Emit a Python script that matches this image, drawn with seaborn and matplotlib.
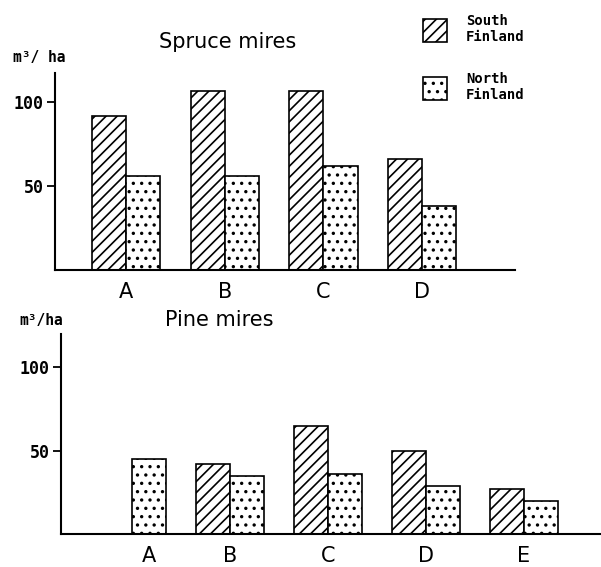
import numpy as np
import pandas as pd
import matplotlib
matplotlib.use("Agg")
import matplotlib.pyplot as plt
from matplotlib.patches import Patch
import seaborn as sns

# ---------------- data ----------------
regions = ["South Finland", "North Finland"]
legend_labels = ["South\nFinland", "North\nFinland"]
region_hatches = ["///", ".."]

spruce_sites = ["A", "B", "C", "D"]
spruce_south = [92, 107, 107, 66]
spruce_north = [56, 56, 62, 38]

pine_sites = ["A", "B", "C", "D", "E"]
pine_south = [np.nan, 42, 65, 50, 27]
pine_north = [45, 35, 36, 29, 20]

y_ticks = [50, 100]
spruce_title = "Spruce mires"
pine_title = "Pine mires"
unit_top = "m³/ ha"
unit_bottom = "m³/ha"


def long_frame(sites, south, north):
    rows = []
    for s, v in zip(sites, south):
        rows.append({"site": s, "region": regions[0], "value": v})
    for s, v in zip(sites, north):
        rows.append({"site": s, "region": regions[1], "value": v})
    return pd.DataFrame(rows).dropna()


sns.set_style("ticks")
plt.rcParams["font.family"] = ["DejaVu Sans"]
plt.rcParams["hatch.linewidth"] = 1.2
for k in ["text.color", "axes.labelcolor", "xtick.color", "ytick.color", "axes.edgecolor"]:
    plt.rcParams[k] = "black"

W, H = 601, 567
fig = plt.figure(figsize=(W / 100, H / 100), dpi=100)

ax1 = fig.add_axes([55 / W, 1 - 270 / H, (515 - 55) / W, (270 - 73) / H])
ax2 = fig.add_axes([61 / W, 1 - 534 / H, (601 - 61) / W, (534 - 334) / H])

mono = dict(family="DejaVu Sans Mono", weight="bold")


def draw(ax, sites, south, north, xlim, ylim):
    df = long_frame(sites, south, north)
    sns.barplot(data=df, x="site", y="value", hue="region", order=sites,
                hue_order=regions, width=0.69, dodge=True, legend=False,
                edgecolor="black", linewidth=1.2, ax=ax)
    for cont, hatch in zip(ax.containers, region_hatches):
        for bar in cont:
            bar.set_facecolor("white")
            bar.set_edgecolor("black")
            bar.set_hatch(hatch)
    # tick positions centred under the bars actually present
    centers = [p.get_x() + p.get_width() / 2 for p in ax.patches
               if np.isfinite(p.get_height()) and p.get_height() > 0]
    ticks = []
    for i in range(len(sites)):
        c = [x for x in centers if i - 0.5 < x < i + 0.5]
        ticks.append(np.mean(c) if c else i)
    ax.set_xticks(ticks)
    ax.set_xticklabels(sites, fontsize=15)
    ax.tick_params(axis="x", length=0, pad=9)
    ax.set_xlim(*xlim)
    ax.set_ylim(*ylim)
    ax.set_yticks(y_ticks)
    ax.set_yticklabels([str(t) for t in y_ticks], fontsize=12, **mono)
    ax.tick_params(axis="y", length=6, width=1.3, pad=2, direction="out")
    ax.set_xlabel("")
    ax.set_ylabel("")
    for side in ["top", "right"]:
        ax.spines[side].set_visible(False)
    for side in ["left", "bottom"]:
        ax.spines[side].set_linewidth(1.5)


draw(ax1, spruce_sites, spruce_south, spruce_north, (-0.72, 3.94), (0, 117.5))
draw(ax2, pine_sites, pine_south, pine_north, (-0.724, 4.786), (0, 120))

fig.text(159 / W, 1 - 48 / H, spruce_title, fontsize=15, va="baseline", ha="left")
fig.text(165 / W, 1 - 326 / H, pine_title, fontsize=15, va="baseline", ha="left")
fig.text(13 / W, 1 - 62 / H, unit_top, fontsize=10.5, va="baseline", ha="left", **mono)
fig.text(19 / W, 1 - 325 / H, unit_bottom, fontsize=10.5, va="baseline", ha="left", **mono)

handles = [Patch(facecolor="white", edgecolor="black", hatch=h, linewidth=1.2)
           for h in region_hatches]
fig.legend(handles, legend_labels, loc="upper left",
           bbox_to_anchor=(423 / W, 1 - 14 / H), frameon=False,
           prop=dict(family="DejaVu Sans Mono", weight="bold", size=10),
           handlelength=1.7, handleheight=2.2, handletextpad=1.4,
           labelspacing=2.0, borderpad=0, borderaxespad=0)

fig.savefig("out.png", dpi=100)
